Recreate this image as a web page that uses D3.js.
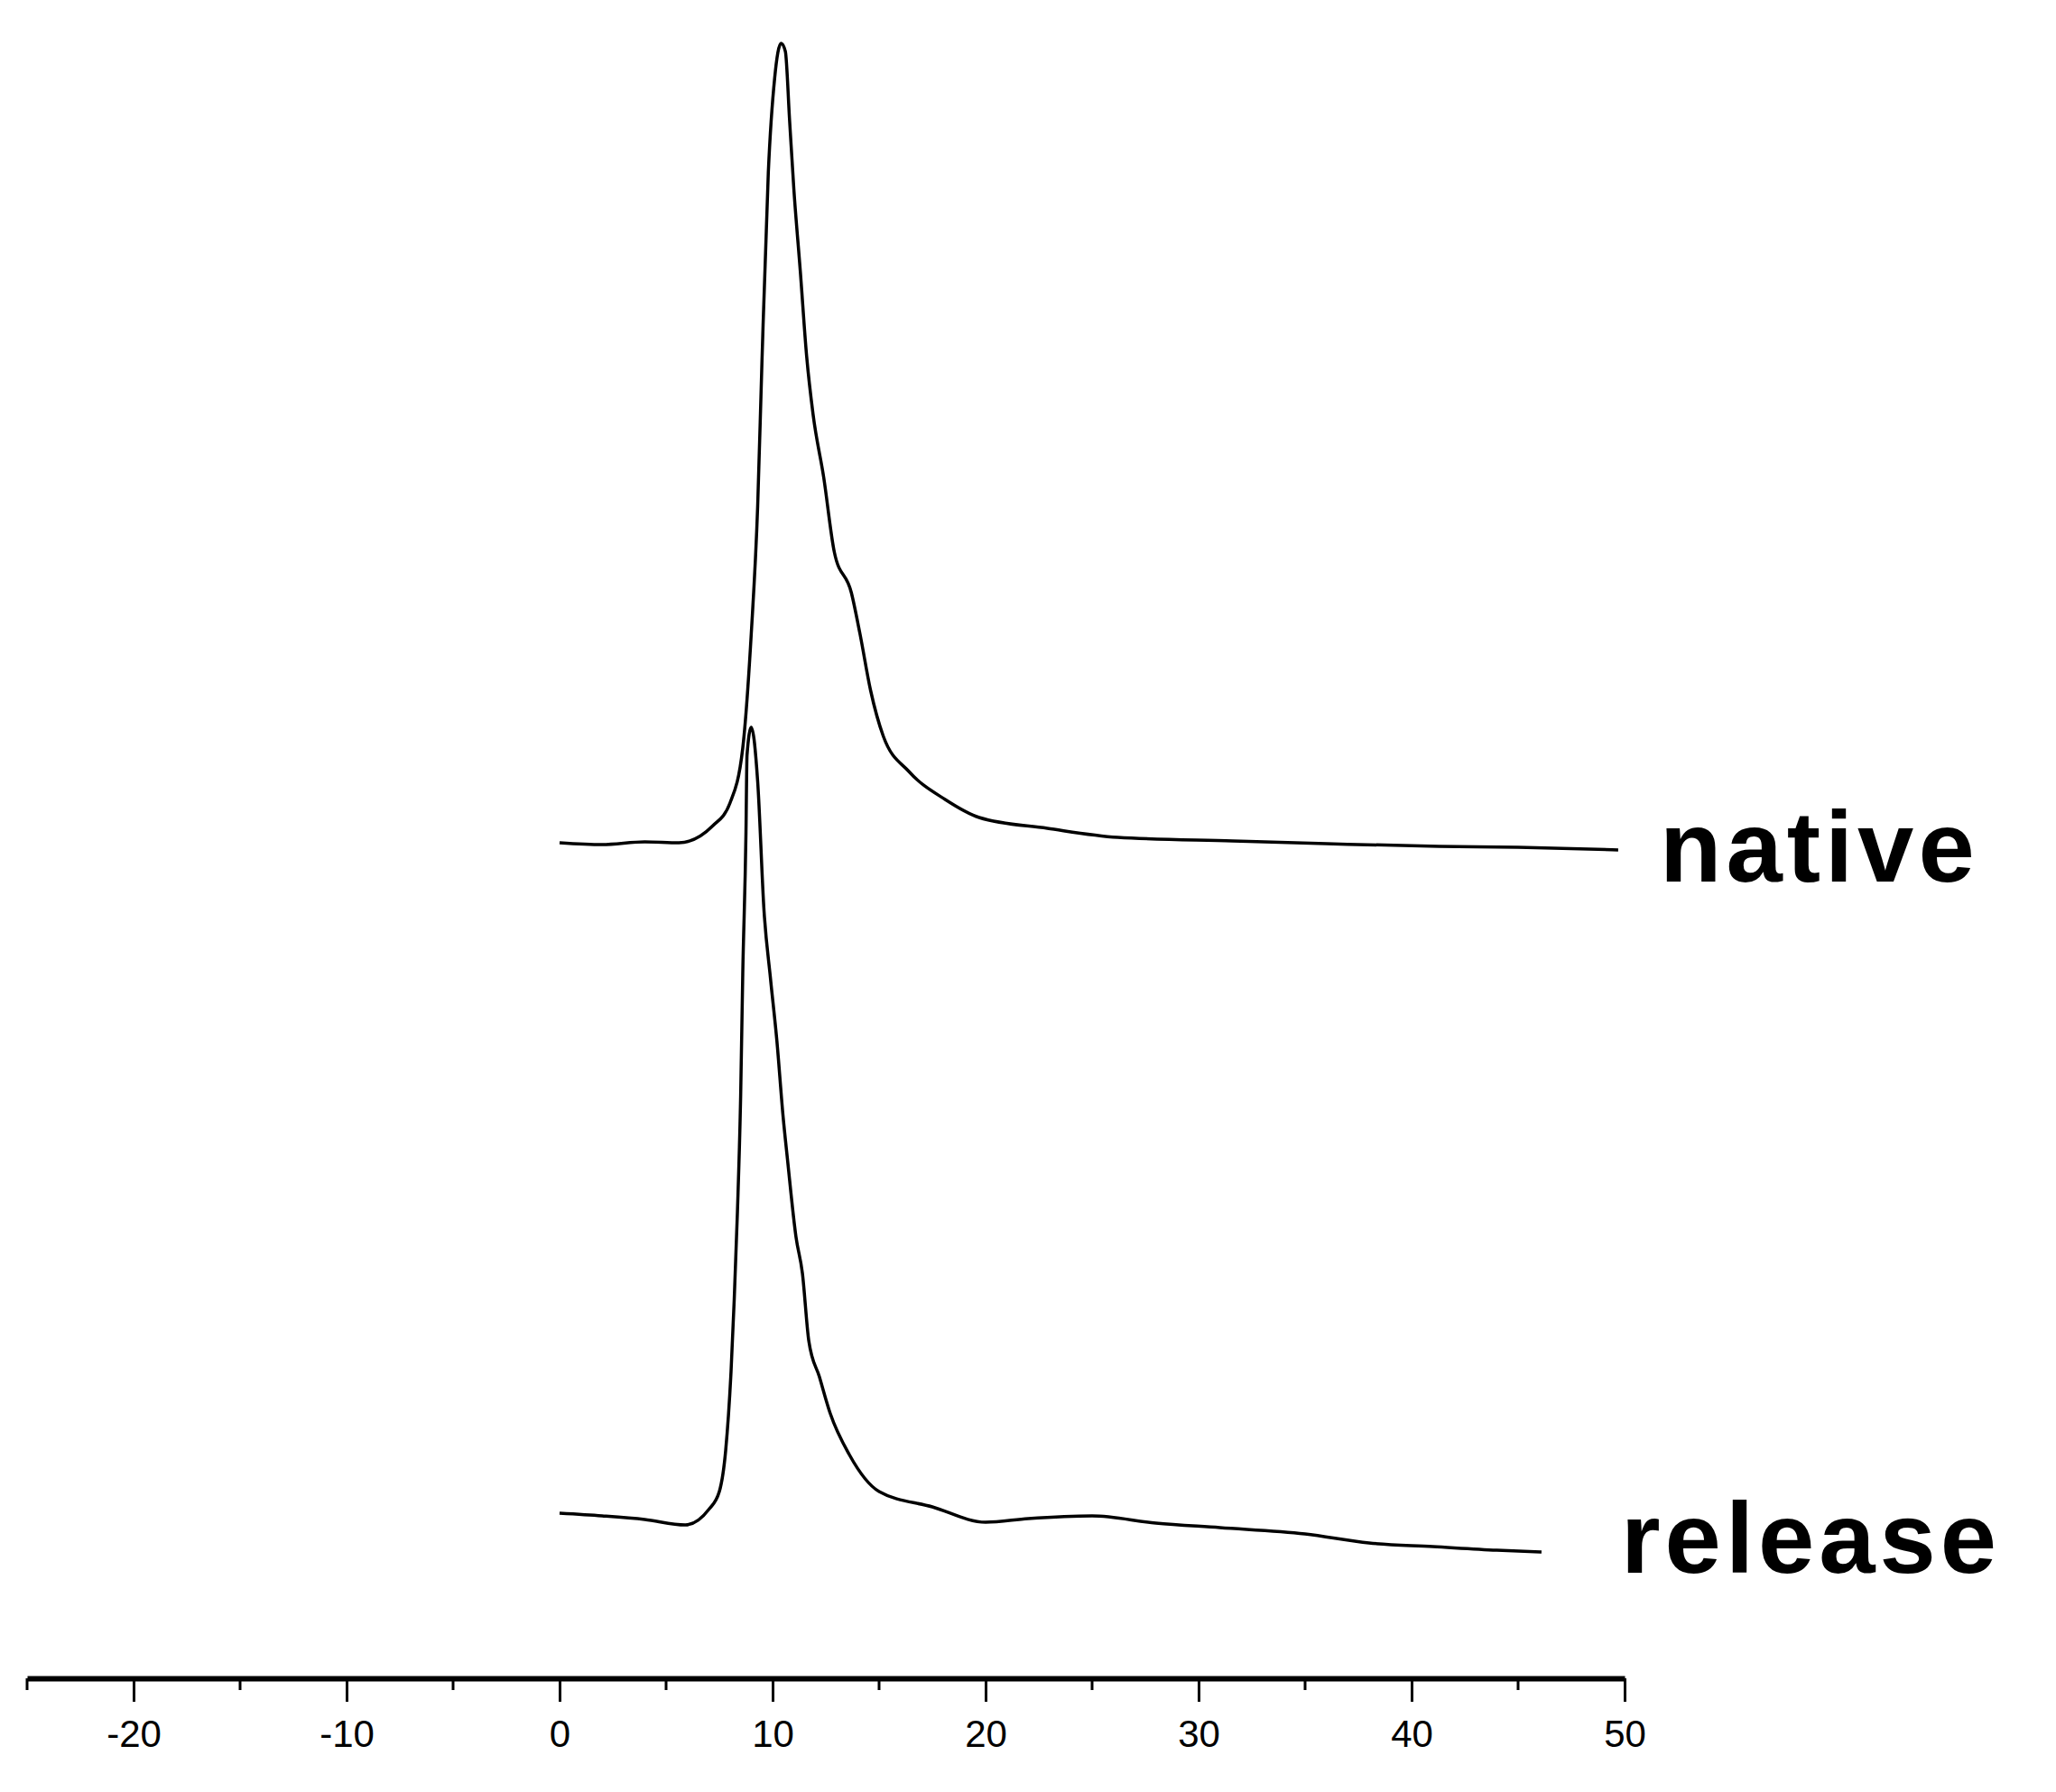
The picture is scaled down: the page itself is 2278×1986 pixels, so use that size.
<!DOCTYPE html>
<html><head><meta charset="utf-8">
<script src="https://cdn.jsdelivr.net/npm/d3@7"></script>
<style>body{margin:0;background:#fff}</style></head>
<body><svg id="c" width="2278" height="1986"></svg>
<script>
const tickValues = [-20,-10,0,10,20,30,40,50];
const minorTicks = [-25,-15,-5,5,15,25,35,45];
const seriesNames = ["native","release"];
const nativeX = [0,2,4,5.6,7.2,8.0,8.6,9.0,9.3,9.5,9.8,10.1,10.4,10.6,10.8,11.0,11.3,11.6,11.9,12.4,12.9,13.7,14.1,14.6,15.2,16.4,18.1,19.7,22.9,26.2,31.6,36,41.3,45,49.7];
const nativeY = [926,924,927,926,945,970,1031,1158,1299,1458,1669,1774,1812,1803,1726,1650,1560,1465,1401,1331,1248,1203,1158,1095,1044,1005,974,954,942,932,928,925,922,921,918];
const releaseX = [0,2,4,5.9,7.0,7.5,7.8,8.05,8.2,8.35,8.5,8.6,8.75,8.8,9.0,9.3,9.6,9.9,10.2,10.5,10.7,11.1,11.4,11.7,12.2,12.7,13.6,15.0,17.5,20,22,25,28,31,35,38,41,44,46.1];
const releaseY = [183,180,176,170,187,207,253,340,420,517,644,781,936,1023,1054,994,850,776,707,621,575,489,449,374,334,294,248,207,190,173,177,180,172,167,160,150,146,142,140];

const svg = d3.select("#c");
const x = d3.scaleLinear().domain([-25,50]).range([30,1800]);
const y = d3.scaleLinear().domain([0,1860]).range([1860,0]);

const line = d3.line().x(d=>x(d[0])).y(d=>y(d[1])).curve(d3.curveMonotoneX);
const nat = nativeX.map((v,i)=>[v,nativeY[i]]);
const rel = releaseX.map((v,i)=>[v,releaseY[i]]);
svg.append("path").attr("d",line(nat)).attr("fill","none").attr("stroke","#000").attr("stroke-width",3.5);
svg.append("path").attr("d",line(rel)).attr("fill","none").attr("stroke","#000").attr("stroke-width",3.5);

// axis
const axisY = 1860;
const g = svg.append("g").attr("transform",`translate(0,${axisY})`);
const ax = d3.axisBottom(x).tickValues(tickValues).tickFormat(d=>String(d)).tickSize(26).tickSizeOuter(0).tickPadding(20);
g.call(ax);
g.select(".domain").attr("stroke","#000").attr("stroke-width",6);
g.selectAll(".tick line").attr("stroke","#000").attr("stroke-width",3);
g.selectAll(".tick text").attr("font-family","Liberation Sans, Arial, sans-serif").attr("font-size",42).attr("fill","#000");
g.selectAll(".minor").data(minorTicks).enter().append("line")
  .attr("x1",d=>x(d)).attr("x2",d=>x(d)).attr("y1",0).attr("y2",13)
  .attr("stroke","#000").attr("stroke-width",3);

// labels
svg.append("text").attr("x",1839).attr("y",977).text(seriesNames[0])
  .attr("font-family","Liberation Sans, Arial, sans-serif").attr("font-weight","bold")
  .attr("font-size",112).attr("letter-spacing",5).attr("fill","#000");
svg.append("text").attr("x",1796).attr("y",1743).text(seriesNames[1])
  .attr("font-family","Liberation Sans, Arial, sans-serif").attr("font-weight","bold")
  .attr("font-size",112).attr("letter-spacing",5).attr("fill","#000");
</script></body></html>
